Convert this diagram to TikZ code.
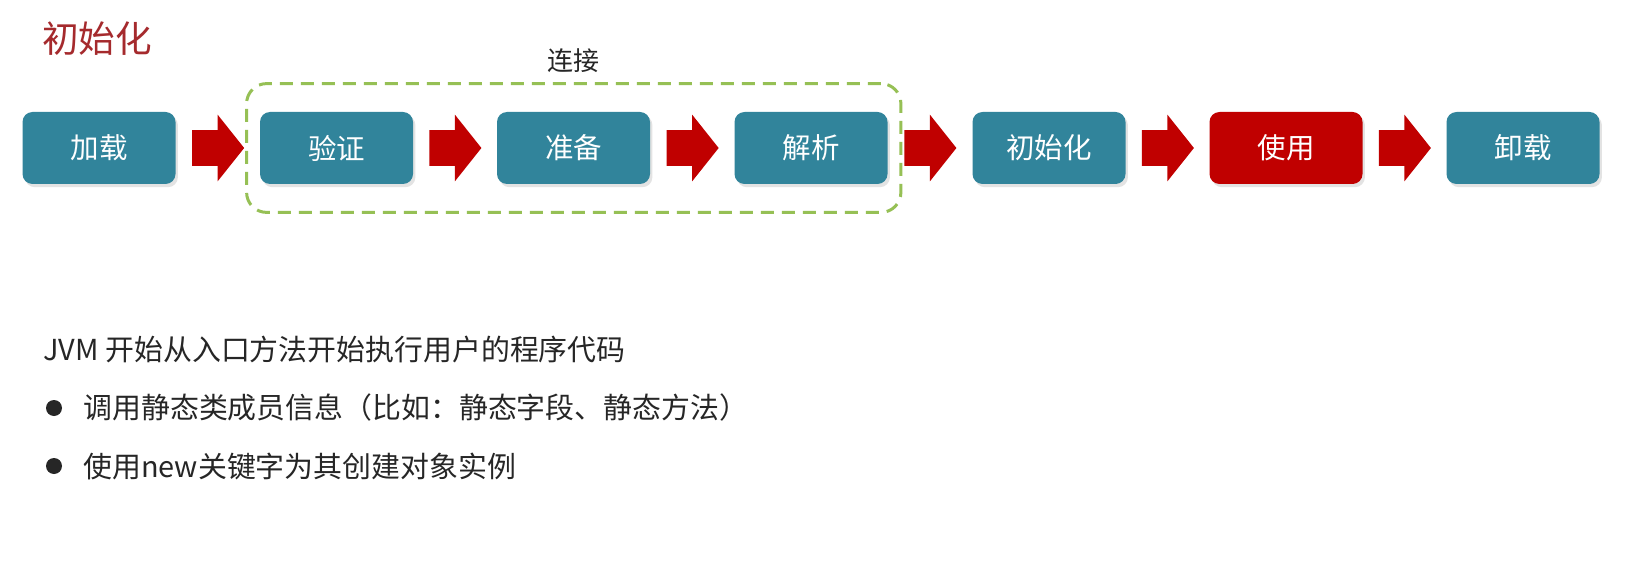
\documentclass[tikz,border=0pt]{standalone}
\usepackage{fontspec}
\newfontfamily\cjk{Noto Sans CJK SC}
\usetikzlibrary{shapes.arrows,positioning,fit,calc,shadows}
\definecolor{stagefill}{RGB}{49,132,155}
\definecolor{usered}{RGB}{192,0,0}
\definecolor{titlered}{RGB}{165,42,45}
\definecolor{linkgreen}{RGB}{150,192,85}
\definecolor{bodytext}{RGB}{38,38,38}
\tikzset{
  stage/.style={rectangle,rounded corners=5pt,fill=stagefill,text=white,
                minimum width=76.5pt,minimum height=36pt,
                font=\cjk\fontsize{14.25pt}{16pt}\selectfont,
                drop shadow={shadow xshift=1.2pt,shadow yshift=-1.6pt,
                             opacity=0.22}},
  usestage/.style={stage,fill=usered},
  fatarrow/.style={single arrow,fill=usered,inner xsep=0pt,inner ysep=8.75pt,
                   minimum height=26pt,single arrow head extend=7.75pt,
                   single arrow tip angle=103,anchor=tail},
  linkbox/.style={rectangle,rounded corners=10pt,draw=linkgreen,
                  line width=1.5pt,dash pattern=on 6.5pt off 4pt,
                  inner xsep=6.5pt,inner ysep=14pt},
  bodyline/.style={anchor=west,inner sep=0pt,text=bodytext,
                   font=\cjk\fontsize{14.45pt}{16pt}\selectfont},
  dot/.style={circle,fill=bodytext,inner sep=0pt,minimum size=8pt},
}

\begin{document}
\begin{tikzpicture}[x=0.5pt,y=-0.5pt]
  \path[fill=white] (0,0) rectangle (1631,561);
  \node[text=titlered,font=\cjk\fontsize{18.3pt}{20pt}\selectfont]
    (title) at (97,39) {初始化};

  % stages
  \node[stage] (load) at (99,148) {加载};
  \node[stage] (verify) at (336.5,148) {验证};
  \node[stage] (prepare) at (573.5,148) {准备};
  \node[stage] (resolve) at (811,148) {解析};
  \node[stage] (init) at (1049,148) {初始化};
  \node[usestage] (use) at (1286,148) {使用};
  \node[stage] (unload) at (1523,148) {卸载};

  % arrows between stages
  \node[fatarrow] (a1) at ($(load.east)!0.5!(verify.west)+(-26,0)$) {};
  \node[fatarrow] (a2) at ($(verify.east)!0.5!(prepare.west)+(-26,0)$) {};
  \node[fatarrow] (a3) at ($(prepare.east)!0.5!(resolve.west)+(-26,0)$) {};
  \node[fatarrow] (a4) at ($(resolve.east)!0.5!(init.west)+(-26,0)$) {};
  \node[fatarrow] (a5) at ($(init.east)!0.5!(use.west)+(-26,0)$) {};
  \node[fatarrow] (a6) at ($(use.east)!0.5!(unload.west)+(-26,0)$) {};

  % linking group
  \node[linkbox,fit=(verify)(resolve)] (link) {};
  \node[font=\cjk\fontsize{13pt}{15pt}\selectfont,text=bodytext,
        above=1pt of link] (linklbl) {连接};

  % notes
  \node[bodyline] (jvm) at (43,350) {JVM 开始从入口方法开始执行用户的程序代码};
  \node[dot] (dot1) at (54,408) {};
  \node[bodyline] (call) at (83,408) {调用静态类成员信息（比如：静态字段、静态方法）};
  \node[dot] (dot2) at (54,466) {};
  \node[bodyline] (newobj) at (83,466) {使用new关键字为其创建对象实例};
\end{tikzpicture}
\end{document}
